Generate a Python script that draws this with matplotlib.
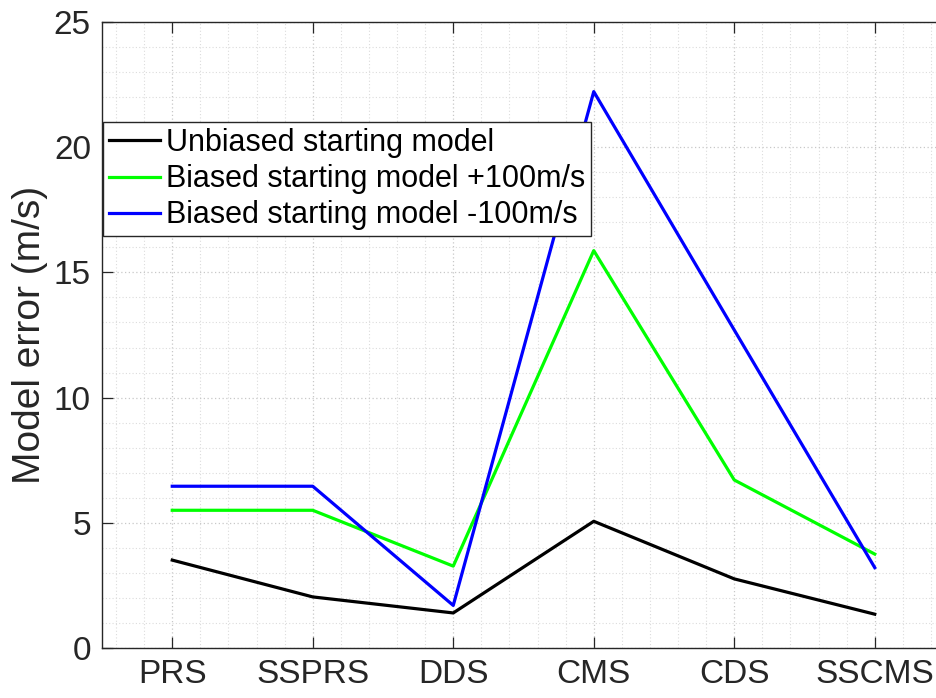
import numpy as np
import matplotlib
matplotlib.use('Agg')
import matplotlib.pyplot as plt
from matplotlib.ticker import MultipleLocator

# model error per inversion strategy
methods = ['PRS', 'SSPRS', 'DDS', 'CMS', 'CDS', 'SSCMS']
unbiased = [3.51, 2.04, 1.40, 5.06, 2.76, 1.35]
biased_plus = [5.50, 5.50, 3.27, 15.87, 6.71, 3.75]
biased_minus = [6.46, 6.46, 1.70, 22.22, 12.70, 3.21]
labels = ['Unbiased starting model',
          'Biased starting model +100m/s',
          'Biased starting model -100m/s']

plt.rcParams['font.family'] = ['Liberation Sans', 'DejaVu Sans']
dark = '#262626'

fig = plt.figure(figsize=(9.36, 6.98), dpi=100)
W, H = 936.0, 698.0
# axes run past the right edge of the figure
ax = fig.add_axes([102 / W, 50 / H, (945 - 102) / W, (648 - 22) / H])

x = np.arange(1, len(methods) + 1)
ax.plot(x, unbiased, color='k', lw=2.3, label=labels[0])
ax.plot(x, biased_plus, color='#00ff00', lw=2.3, label=labels[1])
ax.plot(x, biased_minus, color='#0000ff', lw=2.3, label=labels[2])

ax.set_xlim(0.5, 6.5)
ax.set_ylim(0, 25)
ax.set_xticks(x)
ax.set_xticklabels(methods)
ax.set_yticks([0, 5, 10, 15, 20, 25])
ax.xaxis.set_minor_locator(MultipleLocator(0.2))
ax.yaxis.set_minor_locator(MultipleLocator(1))

ax.grid(True, which='major', ls=(0, (1, 2)), color='#c8c8c8', lw=0.9)
ax.grid(True, which='minor', ls=(0, (1, 2)), color='#dcdcdc', lw=0.8)
ax.set_axisbelow(True)

ax.tick_params(which='major', direction='in', length=8, width=0.9, color=dark,
               labelsize=24, labelcolor=dark, top=True, right=False, pad=8)
ax.tick_params(which='minor', length=0)
for side in ['left', 'bottom', 'top']:
    ax.spines[side].set_color(dark)
    ax.spines[side].set_linewidth(1.0)
ax.spines['right'].set_visible(False)

ax.set_ylabel('Model error (m/s)', fontsize=28, color=dark, labelpad=4)

leg = ax.legend(loc='upper left', bbox_to_anchor=(103 / W, 1 - 122 / H),
                bbox_transform=fig.transFigure, fontsize=22, frameon=True,
                fancybox=False, framealpha=1, edgecolor=dark, borderaxespad=0,
                handlelength=1.65, handletextpad=0.2, labelspacing=0.2,
                borderpad=0.2)
leg.get_frame().set_linewidth(1.0)

fig.savefig('out.png', dpi=100)
